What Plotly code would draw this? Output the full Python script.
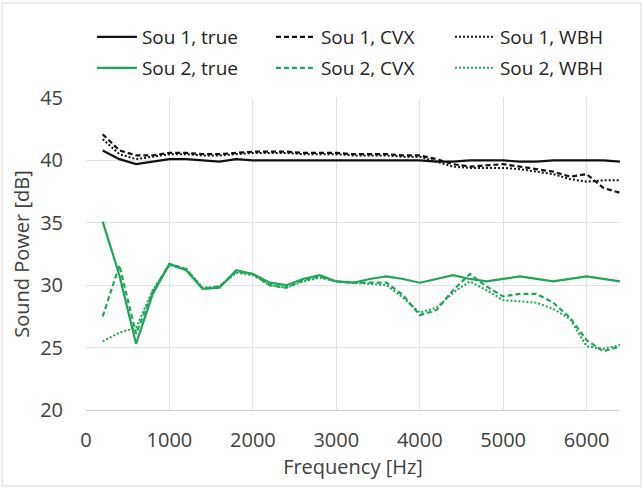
import plotly.graph_objects as go

# frequency grid [Hz]
freq = list(range(200, 6401, 200))

# Source 1 sound power [dB]
sou1_true = [40.8, 40.1, 39.7, 39.9, 40.1, 40.1, 40.0, 39.9, 40.1, 40.0,
             40.0, 40.0, 40.0, 40.0, 40.0, 40.0, 40.0, 40.0, 40.0, 40.0,
             39.9, 39.9, 40.0, 40.0, 40.0, 39.9, 39.9, 40.0, 40.0, 40.0,
             40.0, 39.9]
sou1_cvx = [42.1, 40.8, 40.4, 40.4, 40.6, 40.6, 40.5, 40.5, 40.6, 40.7,
            40.7, 40.7, 40.6, 40.6, 40.6, 40.5, 40.5, 40.5, 40.4, 40.4,
            40.1, 39.7, 39.5, 39.6, 39.7, 39.5, 39.3, 39.1, 38.7, 38.9,
            37.8, 37.4]
sou1_wbh = [41.7, 40.5, 40.1, 40.3, 40.5, 40.5, 40.4, 40.4, 40.5, 40.6,
            40.6, 40.6, 40.5, 40.5, 40.5, 40.4, 40.4, 40.4, 40.3, 40.3,
            39.9, 39.5, 39.4, 39.4, 39.4, 39.3, 39.1, 38.9, 38.5, 38.3,
            38.4, 38.4]

# Source 2 sound power [dB]
sou2_true = [35.1, 30.8, 25.3, 29.3, 31.7, 31.2, 29.7, 29.8, 31.2, 30.9,
             30.2, 30.0, 30.5, 30.8, 30.3, 30.2, 30.5, 30.7, 30.5, 30.2,
             30.5, 30.8, 30.5, 30.3, 30.5, 30.7, 30.5, 30.3, 30.5, 30.7,
             30.5, 30.3]
sou2_cvx = [27.5, 31.6, 26.1, 29.5, 31.7, 31.3, 29.7, 29.9, 31.1, 30.9,
            30.0, 29.8, 30.4, 30.7, 30.3, 30.2, 30.2, 30.2, 29.2, 27.6,
            28.0, 29.6, 30.9, 29.9, 29.1, 29.3, 29.3, 28.6, 27.4, 25.6,
            24.7, 25.1]
sou2_wbh = [25.5, 26.2, 26.6, 29.6, 31.6, 31.3, 29.8, 29.9, 31.0, 30.8,
            30.0, 29.8, 30.3, 30.6, 30.3, 30.2, 30.1, 30.0, 29.0, 27.8,
            28.2, 29.4, 30.3, 29.6, 28.8, 28.7, 28.6, 28.1, 27.3, 25.1,
            24.9, 25.2]

BLACK = "#111111"
GREEN = "#1fa558"

# name, values, colour, dash, width, legend row
series = [
    ("Sou 1, true", sou1_true, BLACK, "solid", 2.2, "legend"),
    ("Sou 1, CVX", sou1_cvx, BLACK, "5px,3px", 2.2, "legend"),
    ("Sou 1, WBH", sou1_wbh, BLACK, "2px,2px", 2, "legend"),
    ("Sou 2, true", sou2_true, GREEN, "solid", 2.2, "legend2"),
    ("Sou 2, CVX", sou2_cvx, GREEN, "5px,3px", 2.2, "legend2"),
    ("Sou 2, WBH", sou2_wbh, GREEN, "2px,2px", 2, "legend2"),
]

fig = go.Figure()
for name, vals, color, dash, width, leg in series:
    fig.add_trace(go.Scatter(
        x=freq, y=vals, name=name, mode="lines", legend=leg,
        line=dict(color=color, dash=dash, width=width),
    ))

font = dict(family="Open Sans, Noto Sans, sans-serif", size=20, color="#404040")
leg_font = dict(family="Open Sans, sans-serif", size=19, color="#222222")


def legend_row(y):
    return dict(
        orientation="h", xref="container", x=0.143, xanchor="left",
        yref="container", y=y, yanchor="middle",
        entrywidth=124, entrywidthmode="pixels",
        font=leg_font, itemwidth=40, bgcolor="rgba(0,0,0,0)",
    )


fig.update_layout(
    width=643, height=488,
    paper_bgcolor="white", plot_bgcolor="white",
    margin=dict(l=86, r=23, t=98, b=78, autoexpand=False),
    font=font,
    showlegend=True,
    legend=legend_row(1 - 37 / 488),
    legend2=legend_row(1 - 68 / 488),
    xaxis=dict(
        range=[0, 6400], dtick=1000, tick0=0, automargin=False,
        showgrid=True, gridcolor="#e3e3e3", zeroline=False,
        showline=True, linecolor="#d0d0d0", linewidth=1,
        ticks="", tickfont=font, ticklabelstandoff=12,
        title=dict(text="Frequency [Hz]", font=font, standoff=4),
    ),
    yaxis=dict(
        range=[20, 45], dtick=5, automargin=False,
        showgrid=True, gridcolor="#e3e3e3", zeroline=False,
        showline=False, ticks="", tickfont=font, ticklabelstandoff=22,
        title=dict(text="Sound Power [dB]", font=font, standoff=5),
    ),
)

# thin frame round the whole chart, as in the source image
fig.add_shape(type="rect", xref="paper", yref="paper",
              x0=-84 / 534, x1=1 + 21 / 534, y0=-76 / 312, y1=1 + 95 / 312,
              line=dict(color="#d9d9d9", width=1), layer="below")

# drop the browser's default page margin so the chart sits at the window's corner
fig.write_html("out.html", config={"displayModeBar": False},
               post_script="document.body.style.margin='0';")
